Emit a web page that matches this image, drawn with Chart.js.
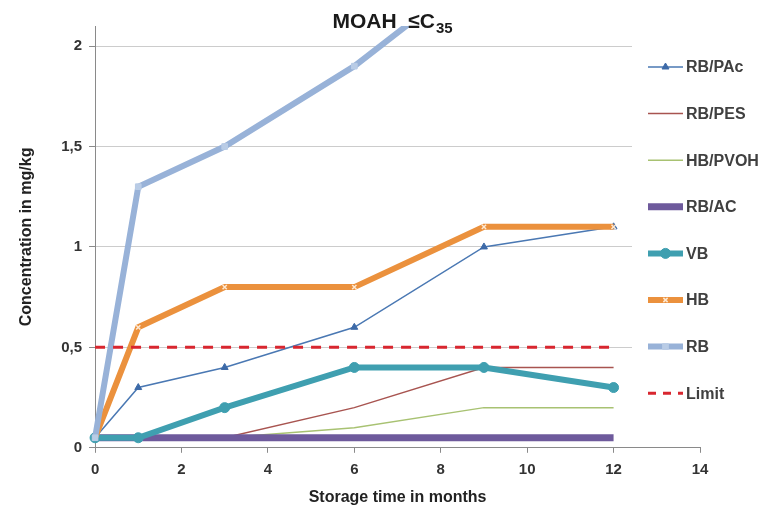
<!DOCTYPE html>
<html><head><meta charset="utf-8">
<script src="https://cdn.jsdelivr.net/npm/chart.js@4.4.1/dist/chart.umd.min.js"></script>
<style>html,body{margin:0;padding:0;background:#fff}#wrap{width:775px;height:510px}</style>
</head><body><div id="wrap"><canvas id="c" width="775" height="510"></canvas></div>
<script>
// ---- data ----
const months = [0, 1, 3, 6, 9, 12];
const seriesNames = ['RB/PAc', 'RB/PES', 'HB/PVOH', 'RB/AC', 'VB', 'HB', 'RB', 'Limit'];
const rbPAc  = [0.05, 0.3, 0.4, 0.6, 1.0, 1.1];
const rbPES  = [0.05, 0.05, 0.05, 0.2, 0.4, 0.4];
const hbPVOH = [0.05, 0.05, 0.05, 0.1, 0.2, 0.2];
const rbAC   = [0.05, 0.05, 0.05, 0.05, 0.05, 0.05];
const vb     = [0.05, 0.05, 0.2, 0.4, 0.4, 0.3];
const hb     = [0.05, 0.6, 0.8, 0.8, 1.1, 1.1];
const rb     = [0.05, 1.3, 1.5, 1.9, 2.4, 2.5];
const limit  = [0.5, 0.5, 0.5, 0.5, 0.5, 0.5];
const xTicks = [0, 2, 4, 6, 8, 10, 12, 14];
const yTicks = [0, 0.5, 1, 1.5, 2];
const titleMain = 'MOAH  ≤C';
const titleSub = '35';
const xTitle = 'Storage time in months';
const yTitle = 'Concentration in mg/kg';

// ---- styles ----
const FONT = "'Liberation Sans', Arial, sans-serif";
const seriesValues = [rbPAc, rbPES, hbPVOH, rbAC, vb, hb, rb, limit];
const styles = [
  {color:'#4a78b3', width:1.5, point:'triangle', pr:4, pfill:'#3d6aa8', pborder:'#3d6aa8'},
  {color:'#a85450', width:1.5, point:false},
  {color:'#a8c272', width:1.5, point:false},
  {color:'#6e5a9c', width:7, point:false},
  {color:'#3f9fb0', width:6, point:'circle', pr:5, pfill:'#3f9fb0', pborder:'#3f9fb0'},
  {color:'#eb913d', width:6, point:'crossRot', pr:3, pfill:'#fde8d2', pborder:'#fde8d2'},
  {color:'#98b2d8', width:6, point:'rect', pr:4, pfill:'#b9cce6', pborder:'#b9cce6'},
  {color:'#d8262f', width:3, point:false, dash:[10,8]}
];

const datasets = seriesNames.map((name, i) => {
  const s = styles[i];
  return {
    label: name,
    data: months.map((m, j) => ({x: m, y: seriesValues[i][j]})),
    borderColor: s.color,
    backgroundColor: s.color,
    borderWidth: s.width,
    borderDash: s.dash || [],
    pointStyle: s.point || 'circle',
    pointRadius: s.point ? s.pr : 0,
    pointBackgroundColor: s.pfill || s.color,
    pointBorderColor: s.pborder || s.color,
    pointBorderWidth: s.point === 'crossRot' ? 1.5 : 1,
    tension: 0,
    fill: false,
    order: seriesNames.length - i,
    clip: {left: false, right: false, bottom: false, top: 0}
  };
});

const subTitle = {
  id: 'subTitle',
  afterDraw(chart) {
    const ctx = chart.ctx;
    ctx.save();
    ctx.fillStyle = '#1a1a1a';
    ctx.textBaseline = 'alphabetic';
    ctx.textAlign = 'left';
    const mainFont = 'bold 21px ' + FONT, subFont = 'bold 15px ' + FONT;
    ctx.font = mainFont;
    const w1 = ctx.measureText(titleMain).width;
    ctx.font = subFont;
    const w2 = ctx.measureText(titleSub).width;
    const cx = (chart.chartArea.left + chart.chartArea.right) / 2 - 5;
    const x = cx - (w1 + w2 + 1) / 2;
    ctx.font = mainFont;
    ctx.fillText(titleMain, x, 28);
    ctx.font = subFont;
    ctx.fillText(titleSub, x + w1 + 1, 33);
    ctx.restore();
  }
};

const sideLegend = {
  id: 'sideLegend',
  afterDraw(chart) {
    const ctx = chart.ctx;
    ctx.save();
    ctx.fillStyle = '#ffffff';
    ctx.fillRect(632, 32, 143, 396);
    const x0 = 648, x1 = 683, tx = 686, y0 = 67, dy = 46.6;
    chart.data.datasets.forEach((ds, i) => {
      const y = y0 + i * dy;
      ctx.save();
      ctx.strokeStyle = ds.borderColor;
      ctx.lineWidth = ds.borderWidth;
      ctx.setLineDash(ds.borderDash && ds.borderDash.length ? [8, 7] : []);
      ctx.beginPath();
      ctx.moveTo(x0, y); ctx.lineTo(x1, y);
      ctx.stroke();
      ctx.restore();
      if (ds.pointRadius > 0 && Chart.helpers && Chart.helpers.drawPoint) {
        ctx.save();
        ctx.fillStyle = ds.pointBackgroundColor;
        ctx.strokeStyle = ds.pointBorderColor;
        ctx.lineWidth = ds.pointBorderWidth;
        Chart.helpers.drawPoint(ctx, {pointStyle: ds.pointStyle, radius: ds.pointRadius, rotation: 0, borderWidth: ds.pointBorderWidth}, (x0 + x1) / 2, y);
        ctx.restore();
      }
      ctx.fillStyle = '#404040';
      ctx.font = 'bold 16px ' + FONT;
      ctx.textBaseline = 'middle';
      ctx.textAlign = 'left';
      ctx.fillText(ds.label, tx, y + 1);
    });
    ctx.restore();
  }
};

const fmt = v => String(v).replace('.', ',');

new Chart(document.getElementById('c'), {
  type: 'line',
  data: {datasets},
  options: {
    responsive: false,
    animation: false,
    devicePixelRatio: 1,
    layout: {padding: {left: 17, right: 75, top: 26, bottom: 3}},
    plugins: {
      legend: {display: false},
      tooltip: {enabled: false},
      title: {display: false}
    },
    scales: {
      x: {
        type: 'linear',
        min: 0, max: 14,
        afterBuildTicks: sc => { sc.ticks = xTicks.map(v => ({value: v})); },
        ticks: {color: '#333', font: {family: FONT, size: 15, weight: 'bold'}, padding: 8, callback: v => fmt(v), maxRotation: 0},
        grid: {drawOnChartArea: false, drawTicks: true, tickLength: 5, tickColor: '#8a8a8a'},
        border: {display: true, color: '#8a8a8a', width: 1},
        title: {display: true, text: xTitle, color: '#222', font: {family: FONT, size: 16, weight: 'bold'}, padding: {top: 1, bottom: 0}}
      },
      y: {
        type: 'linear',
        min: 0, max: 2.1,
        afterBuildTicks: sc => { sc.ticks = yTicks.map(v => ({value: v})); },
        ticks: {color: '#333', font: {family: FONT, size: 15, weight: 'bold'}, padding: 7, callback: v => fmt(v)},
        grid: {color: '#cccccc', lineWidth: 1, drawTicks: true, tickLength: 6, tickColor: '#8a8a8a'},
        border: {display: true, color: '#8a8a8a', width: 1},
        title: {display: true, text: yTitle, color: '#222', font: {family: FONT, size: 16, weight: 'bold'}, padding: {top: 0, bottom: 18}}
      }
    }
  },
  plugins: [subTitle, sideLegend]
});
</script>
</body></html>
